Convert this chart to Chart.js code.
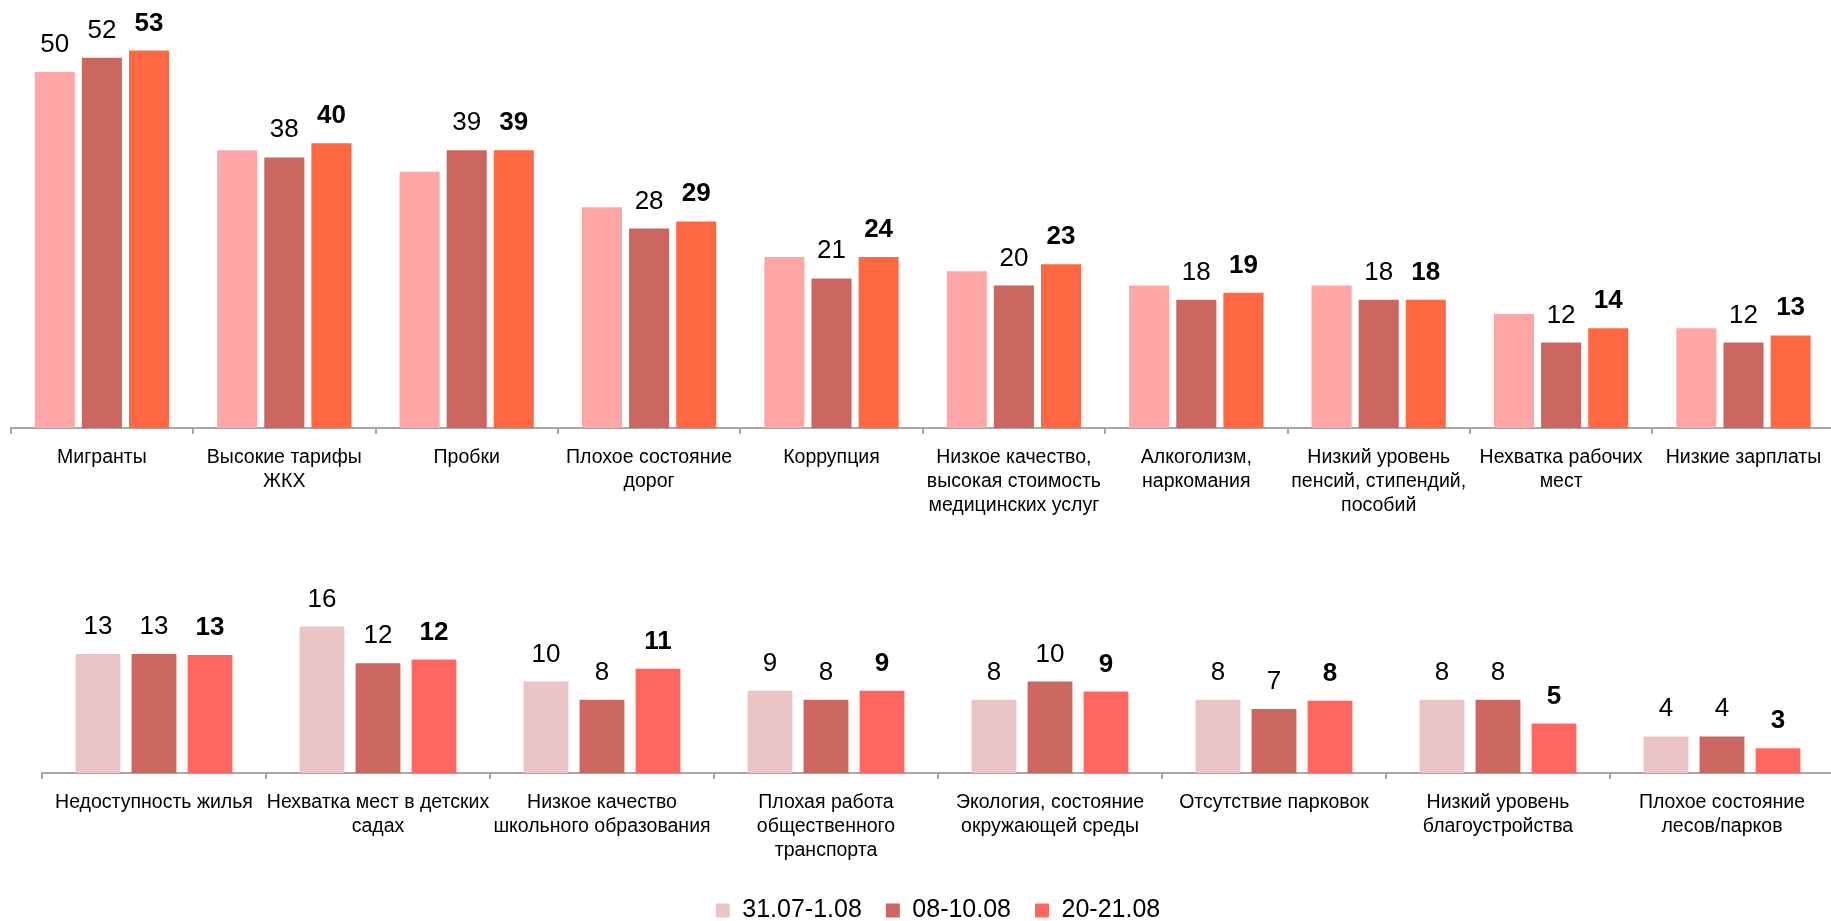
<!DOCTYPE html>
<html><head><meta charset="utf-8">
<script src="https://cdn.jsdelivr.net/npm/chart.js@4.4.0/dist/chart.umd.min.js"></script>
<style>
html,body{margin:0;padding:0;background:#fff;overflow:hidden;width:1831px;height:921px;}
#c1{position:absolute;left:0;top:0;}
#c2{position:absolute;left:0;top:540px;}
</style></head><body>
<canvas id="c1" width="1845" height="530"></canvas>
<canvas id="c2" width="1890" height="400"></canvas>
<script>
const seriesNames = ['31.07-1.08', '08-10.08', '20-21.08'];

const topCategories = [
  'Мигранты',
  ['Высокие тарифы', 'ЖКХ'],
  'Пробки',
  ['Плохое состояние', 'дорог'],
  'Коррупция',
  ['Низкое качество,', 'высокая стоимость', 'медицинских услуг'],
  ['Алкоголизм,', 'наркомания'],
  ['Низкий уровень', 'пенсий, стипендий,', 'пособий'],
  ['Нехватка рабочих', 'мест'],
  'Низкие зарплаты'
];
const top1 = [50, 39, 36, 31, 24, 22, 20, 20, 16, 14];
const top2 = [52, 38, 39, 28, 21, 20, 18, 18, 12, 12];
const top3 = [53, 40, 39, 29, 24, 23, 19, 18, 14, 13];
const top1Labeled = [true, false, false, false, false, false, false, false, false, false];

const bottomCategories = [
  'Недоступность жилья',
  ['Нехватка мест в детских', 'садах'],
  ['Низкое качество', 'школьного образования'],
  ['Плохая работа', 'общественного', 'транспорта'],
  ['Экология, состояние', 'окружающей среды'],
  'Отсутствие парковок',
  ['Низкий уровень', 'благоустройства'],
  ['Плохое состояние', 'лесов/парков']
];
const bot1 = [13, 16, 10, 9, 8, 8, 8, 4];
const bot2 = [13, 12, 8, 8, 10, 7, 8, 4];
const bot3 = [12.9, 12.4, 11.4, 9, 8.9, 7.9, 5.4, 2.7];

const topColors = ['#FFA6A6', '#CC6660', '#FF6842'];
const botColors = ['#EBC5C5', '#CC6660', '#FF6660'];

const valueLabels = {
  id: 'valueLabels',
  afterDatasetsDraw(chart) {
    const ctx = chart.ctx;
    chart.data.datasets.forEach((ds, di) => {
      const meta = chart.getDatasetMeta(di);
      meta.data.forEach((el, i) => {
        if (ds.showLabel && !ds.showLabel[i]) return;
        const v = ds.data[i];
        ctx.save();
        ctx.font = (ds.labelBold ? 'bold ' : '') + '26px "Liberation Sans", Arial, sans-serif';
        ctx.fillStyle = '#000';
        ctx.textAlign = 'center';
        ctx.textBaseline = 'alphabetic';
        ctx.fillText(String(Math.round(v)), el.x, el.y - 20);
        ctx.restore();
      });
    });
  }
};

const tickFont = {family: '"Liberation Sans", Arial, sans-serif', size: 19.5, lineHeight: 1.22};

function xScale(h) {
  return {
    offset: true,
    grid: {offset: true, drawOnChartArea: false, drawTicks: true, tickLength: 6, color: '#A6A6A6', lineWidth: 2},
    border: {display: true, color: '#A6A6A6', width: 2},
    ticks: {autoSkip: false, maxRotation: 0, minRotation: 0, padding: 12, color: '#000', font: tickFont},
    afterFit(s) { s.height = h; }
  };
}

function makeDs(values, i, colors, cp, bp, extra) {
  return Object.assign({
    label: seriesNames[i],
    data: values,
    backgroundColor: colors[i],
    borderWidth: 0,
    categoryPercentage: cp,
    barPercentage: bp,
    labelBold: i === 2
  }, extra || {});
}

new Chart(document.getElementById('c1'), {
  type: 'bar',
  data: {
    labels: topCategories,
    datasets: [
      makeDs(top1, 0, topColors, 0.775, 0.85, {showLabel: top1Labeled}),
      makeDs(top2, 1, topColors, 0.775, 0.85),
      makeDs(top3, 2, topColors, 0.775, 0.85)
    ]
  },
  options: {
    responsive: false,
    animation: false,
    layout: {padding: {left: 10.7, right: 10.3, top: 0, bottom: 0}},
    plugins: {legend: {display: false}, tooltip: {enabled: false}},
    scales: {
      x: xScale(102),
      y: {display: false, min: 0, max: 60.1}
    }
  },
  plugins: [valueLabels]
});

new Chart(document.getElementById('c2'), {
  type: 'bar',
  data: {
    labels: bottomCategories,
    datasets: [
      makeDs(bot1, 0, botColors, 0.75, 0.80),
      makeDs(bot2, 1, botColors, 0.75, 0.80),
      makeDs(bot3, 2, botColors, 0.75, 0.80)
    ]
  },
  options: {
    responsive: false,
    animation: false,
    layout: {padding: {left: 42, right: 56, top: 50, bottom: 7}},
    plugins: {
      legend: {
        display: true,
        position: 'bottom',
        labels: {boxWidth: 14, boxHeight: 14, padding: 24, color: '#000',
                 font: {family: '"Liberation Sans", Arial, sans-serif', size: 25}}
      },
      tooltip: {enabled: false}
    },
    scales: {
      x: xScale(101),
      y: {display: false, min: 0, max: 20}
    }
  },
  plugins: [valueLabels]
});
</script>
</body></html>
